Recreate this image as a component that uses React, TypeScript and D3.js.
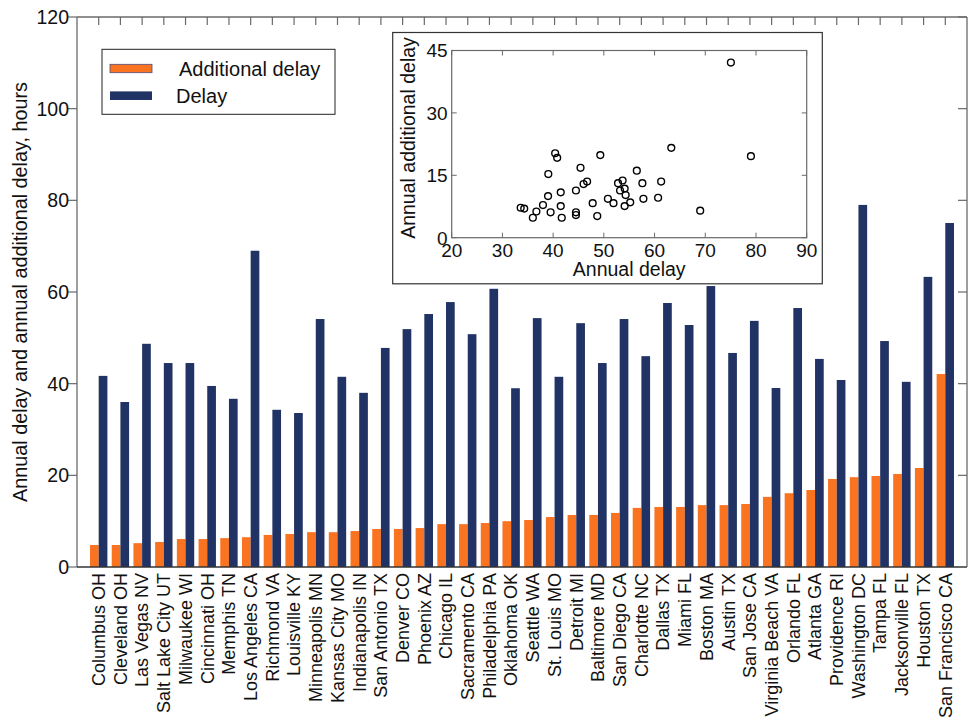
import React from "react";
import * as d3 from "d3";

const cities = [
  "Columbus OH", "Cleveland OH", "Las Vegas NV", "Salt Lake City UT", "Milwaukee WI",
  "Cincinnati OH", "Memphis TN", "Los Angeles CA", "Richmond VA", "Louisville KY",
  "Minneapolis MN", "Kansas City MO", "Indianapolis IN", "San Antonio TX", "Denver CO",
  "Phoenix AZ", "Chicago IL", "Sacramento CA", "Philadelphia PA", "Oklahoma OK",
  "Seattle WA", "St. Louis MO", "Detroit MI", "Baltimore MD", "San Diego CA",
  "Charlotte NC", "Dallas TX", "Miami FL", "Boston MA", "Austin TX",
  "San Jose CA", "Virginia Beach VA", "Orlando FL", "Atlanta GA", "Providence RI",
  "Washington DC", "Tampa FL", "Jacksonville FL", "Houston TX", "San Francisco CA",
];

const additionalDelay = [
  4.8, 4.8, 5.2, 5.45, 6.1, 6.1, 6.3, 6.5, 7.0, 7.2,
  7.6, 7.6, 7.85, 8.3, 8.3, 8.5, 9.35, 9.35, 9.6, 10.0,
  10.25, 10.9, 11.35, 11.35, 11.8, 12.9, 13.1, 13.1, 13.5, 13.5,
  13.75, 15.3, 16.1, 16.8, 19.2, 19.6, 19.85, 20.3, 21.6, 42.1,
];

const delay = [
  41.7, 36.0, 48.7, 44.5, 44.5, 39.5, 36.7, 69.0, 34.3, 33.6,
  54.1, 41.5, 38.0, 47.8, 51.9, 55.2, 57.8, 50.8, 60.7, 39.0,
  54.3, 41.5, 53.2, 44.5, 54.1, 46.0, 57.6, 52.8, 61.3, 46.7,
  53.7, 39.05, 56.5, 45.4, 40.8, 79.0, 49.3, 40.4, 63.3, 75.05,
];

const yTicks = [0, 20, 40, 60, 80, 100, 120];
const insetXTicks = [20, 30, 40, 50, 60, 70, 80, 90];
const insetYTicks = [0, 15, 30, 45];

const ORANGE = "#FA7321";
const NAVY = "#213264";
const AXIS = "#6a6a6a";
const FONT = "'Liberation Sans', Arial, Helvetica, sans-serif";

export default function App() {
  const W = 969, H = 721;
  const left = 77, right = 967, top = 17, bottom = 567;
  const x = d3.scaleLinear().domain([0, cities.length + 1]).range([left, right]);
  const y = d3.scaleLinear().domain([0, 120]).range([bottom, top]);
  const slot = x(1) - x(0);
  const bw = slot * 0.4;

  // inset
  const iL = 451.7, iR = 806.7, iT = 50.5, iB = 237.7;
  const ix = d3.scaleLinear().domain([20, 90]).range([iL, iR]);
  const iy = d3.scaleLinear().domain([0, 45]).range([iB, iT]);

  return (
    <svg width={W} height={H} style={{ position: "absolute", left: 0, top: 0 }} fontFamily={FONT}>
      <rect x={0} y={0} width={W} height={H} fill="#fff" />
      {/* bars */}
      {cities.map((c, i) => (
        <g key={c}>
          <rect x={x(i + 1) - bw} y={y(additionalDelay[i])} width={bw} height={y(0) - y(additionalDelay[i])} fill={ORANGE} />
          <rect x={x(i + 1)} y={y(delay[i])} width={bw} height={y(0) - y(delay[i])} fill={NAVY} />
        </g>
      ))}
      {/* axes frame */}
      <line x1={left} x2={left} y1={top} y2={bottom} stroke={AXIS} strokeWidth={1.3} />
      <line x1={right} x2={right} y1={top} y2={bottom} stroke={AXIS} strokeWidth={1.3} />
      <line x1={left} x2={right} y1={top} y2={top} stroke={AXIS} strokeWidth={1.3} />
      <line x1={left} x2={right} y1={bottom} y2={bottom} stroke="#333" strokeWidth={1.3} />
      {/* y ticks */}
      {yTicks.map((t) => (
        <g key={t}>
          <line x1={left - 9} x2={left} y1={y(t)} y2={y(t)} stroke={AXIS} strokeWidth={1.2} />
          <line x1={right - 9} x2={right} y1={y(t)} y2={y(t)} stroke={AXIS} strokeWidth={1.2} />
          <text x={left - 8} y={y(t)} dy="0.36em" textAnchor="end" fontSize={19.5} fill="#111">{t}</text>
        </g>
      ))}
      {/* top ticks */}
      {cities.map((c, i) => (
        <line key={"tt" + c} x1={x(i + 1)} x2={x(i + 1)} y1={top} y2={top + 8} stroke={AXIS} strokeWidth={1.2} />
      ))}
      {/* x labels */}
      {cities.map((c, i) => (
        <text key={"xl" + c} transform={`translate(${x(i + 1)},${bottom + 6}) rotate(-90)`} dy="0.35em" textAnchor="end" fontSize={18} fill="#111">{c}</text>
      ))}
      {/* y label */}
      <text transform={`translate(26.5,${(top + bottom) / 2}) rotate(-90)`} textAnchor="middle" fontSize={19.8} fill="#111">
        Annual delay and annual additional delay, hours
      </text>
      {/* legend */}
      <rect x={102} y={49.3} width={233} height={65} fill="#fff" stroke="#222" strokeWidth={1} />
      <rect x={110} y={64.3} width={42} height={8.4} fill={ORANGE} stroke="#4a4f80" strokeWidth={0.8} />
      <rect x={110} y={91.4} width={42} height={8.6} fill={NAVY} />
      <text x={179} y={68.5} dy="0.36em" fontSize={20} fill="#111">Additional delay</text>
      <text x={176} y={95.7} dy="0.36em" fontSize={20} fill="#111">Delay</text>
      {/* inset */}
      <rect x={392.7} y={32.5} width={822.3 - 392.7} height={283.8 - 32.5} fill="#fff" stroke="#333" strokeWidth={1.2} />
      <rect x={iL} y={iT} width={iR - iL} height={iB - iT} fill="#fff" stroke={AXIS} strokeWidth={1.2} />
      {insetXTicks.map((t) => (
        <g key={"ix" + t}>
          <line x1={ix(t)} x2={ix(t)} y1={iB} y2={iB - 5} stroke={AXIS} strokeWidth={1} />
          <line x1={ix(t)} x2={ix(t)} y1={iT} y2={iT + 5} stroke={AXIS} strokeWidth={1} />
          <text x={ix(t)} y={257} textAnchor="middle" fontSize={19} fill="#111">{t}</text>
        </g>
      ))}
      {insetYTicks.map((t) => (
        <g key={"iy" + t}>
          <line x1={iL} x2={iL + 5} y1={iy(t)} y2={iy(t)} stroke={AXIS} strokeWidth={1} />
          <line x1={iR} x2={iR - 5} y1={iy(t)} y2={iy(t)} stroke={AXIS} strokeWidth={1} />
          <text x={iL - 4} y={iy(t)} dy="0.36em" textAnchor="end" fontSize={19} fill="#111">{t}</text>
        </g>
      ))}
      {delay.map((d, i) => (
        <circle key={"pt" + i} cx={ix(d)} cy={iy(additionalDelay[i])} r={3.4} fill="none" stroke="#000" strokeWidth={1.4} />
      ))}
      <text x={(iL + iR) / 2} y={276} textAnchor="middle" fontSize={19.5} fill="#111">Annual delay</text>
      <text transform={`translate(415,138) rotate(-90)`} textAnchor="middle" fontSize={19.5} fill="#111">Annual additional delay</text>
    </svg>
  );
}
